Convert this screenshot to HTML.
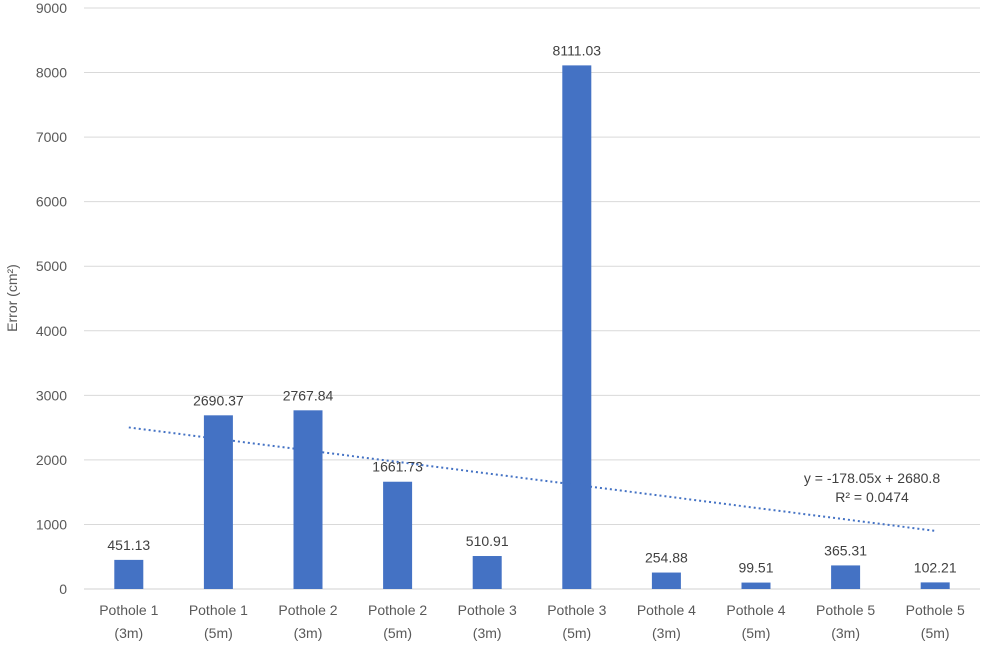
<!DOCTYPE html>
<html><head><meta charset="utf-8"><style>
body{margin:0;background:#fff;}
svg{display:block;font-family:"Liberation Sans",sans-serif;}
</style></head><body>
<svg id="chart" width="983" height="648"></svg>
<script>
const categories=["Pothole 1|(3m)","Pothole 1|(5m)","Pothole 2|(3m)","Pothole 2|(5m)","Pothole 3|(3m)","Pothole 3|(5m)","Pothole 4|(3m)","Pothole 4|(5m)","Pothole 5|(3m)","Pothole 5|(5m)"];
const values=[451.13,2690.37,2767.84,1661.73,510.91,8111.03,254.88,99.51,365.31,102.21];
const valueLabels=["451.13","2690.37","2767.84","1661.73","510.91","8111.03","254.88","99.51","365.31","102.21"];
const yTicks=[0,1000,2000,3000,4000,5000,6000,7000,8000,9000];
const trendSlope=-178.05, trendIntercept=2680.8;
const trendLabel=["y = -178.05x + 2680.8","R² = 0.0474"];

const svg=document.getElementById('chart');
const NS="http://www.w3.org/2000/svg";
const x0=84,x1=980,yBase=589,yTop=8,yMax=9000;
const band=(x1-x0)/categories.length;
const xc=i=>x0+band*(i+0.5);
const y=v=>yBase-(v/yMax)*(yBase-yTop);
function mk(t,a,txt){const e=document.createElementNS(NS,t);for(const k in a)e.setAttribute(k,a[k]);if(txt!==undefined)e.textContent=txt;svg.appendChild(e);return e;}

yTicks.forEach(t=>{
  const g=mk('line',{x1:x0,x2:x1,y1:y(t),y2:y(t),stroke:t===0?'#d0d0d0':'#d9d9d9','stroke-width':1});
  
  
  const l=mk('text',{x:67,y:y(t)+5,'text-anchor':'end','font-size':14,fill:'#595959'},String(t));
  
  
});
const yt=mk('text',{x:0,y:0,transform:'translate(17,298) rotate(-90)','text-anchor':'middle','font-size':14,fill:'#595959'},'Error (cm²)');



const bw=29;
values.forEach((v,i)=>{
  const r=mk('rect',{x:xc(i)-bw/2,y:y(v),width:bw,height:yBase-y(v),fill:'#4472c4'});
  
  
  const t=mk('text',{x:xc(i),y:y(v)-10,'text-anchor':'middle','font-size':14,fill:'#404040'},valueLabels[i]);
  
  
  const parts=categories[i].split('|');
  const c=mk('text',{x:xc(i),y:615,'text-anchor':'middle','font-size':14,fill:'#595959'},parts[0]);
  
  
  const c2=mk('text',{x:xc(i),y:638,'text-anchor':'middle','font-size':14,fill:'#595959'},parts[1]);
  
  
});

const n=categories.length;
const tl=mk('line',{x1:xc(0),y1:y(trendSlope*1+trendIntercept),x2:xc(n-1),y2:y(trendSlope*n+trendIntercept),stroke:'#4472c4','stroke-width':2,'stroke-dasharray':'2,3'});


const e1=mk('text',{x:872,y:483,'text-anchor':'middle','font-size':14,fill:'#404040'},trendLabel[0]);


const e2=mk('text',{x:872,y:502,'text-anchor':'middle','font-size':14,fill:'#404040'},trendLabel[1]);


</script>
</body></html>
